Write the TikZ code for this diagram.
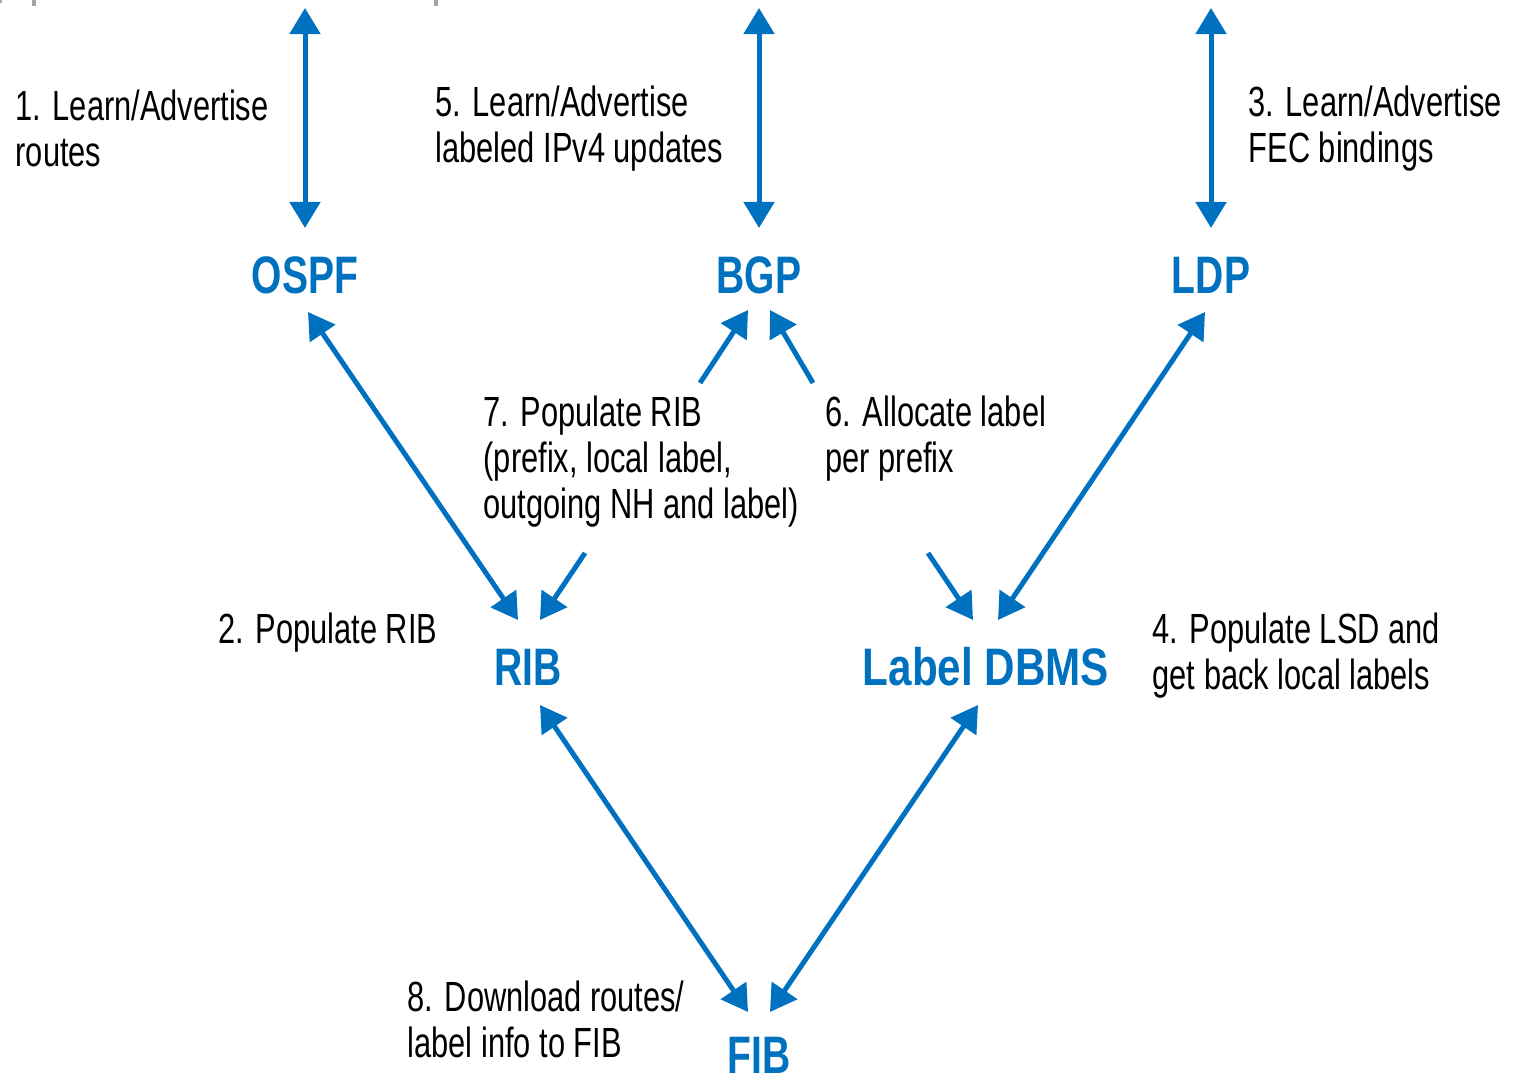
\documentclass[tikz,border=0pt]{standalone}
\usepackage{fontspec}
\setmainfont{Liberation Sans}[FakeStretch=0.73]
\newfontfamily\protofont{Liberation Sans}[FakeStretch=0.74]
\newfontfamily\tablefont{Liberation Sans}[FakeStretch=0.80]
\usetikzlibrary{arrows.meta,calc}
\definecolor{netblue}{RGB}{0,113,190}
\begin{document}
\begin{tikzpicture}[x=0.01cm,y=-0.01cm,
  proto/.style={font=\protofont\fontsize{15pt}{18pt}\selectfont\bfseries, text=netblue,
    inner sep=0pt, text height=10.8pt, text depth=0pt},
  note/.style={font=\fontsize{12pt}{13.1pt}\selectfont, align=left,
    anchor=west, inner sep=0pt},
  tip/.tip={Triangle[length=0.26cm,width=0.30cm]},
  link/.style={draw=netblue, line width=0.05cm, -tip},
  both/.style={draw=netblue, line width=0.05cm, tip-tip},
]
\useasboundingbox (0,0) rectangle (1519,1080);

% small gray ticks along the top edge
\fill[gray!70] (32,0) rectangle (36,6);
\fill[gray!70] (434,0) rectangle (438,6);
\fill[gray!70] (0,0) rectangle (2,3);

% protocol and table nodes
\node[proto] (ospf) at (305,275) {OSPF};
\node[proto] (bgp)  at (759,275) {BGP};
\node[proto] (ldp)  at (1211,275) {LDP};
\node[proto] (rib)  at (528,667) {RIB};
\node[proto, font=\tablefont\fontsize{15pt}{18pt}\selectfont\bfseries] (dbms) at (986,667) {Label DBMS};
\node[proto] (fib)  at (759,1055) {FIB};

% step annotations
\node[note] (t1) at (15,128.5)   {1. Learn/Advertise\\routes};
\node[note] (t5) at (435,128.5)  {5. Learn/Advertise\\labeled IPv4 updates};
\node[note] (t3) at (1248,128.5) {3. Learn/Advertise\\FEC bindings};
\node[note] (t7) at (483,461.5)  {7. Populate RIB\\(prefix, local label,\\outgoing NH and label)};
\node[note] (t6) at (825,439)    {6. Allocate label\\per prefix};
\node[note] (t2) at (218,633)    {2. Populate RIB};
\node[note] (t4) at (1152,655.5) {4. Populate LSD and\\get back local labels};
\node[note] (t8) at (407,1019.5) {8. Download routes/\\label info to FIB};

% peers above the protocols
\coordinate (ospfpeer) at (305,8);
\coordinate (bgppeer)  at (759,8);
\coordinate (ldppeer)  at (1211,8);
\draw[both] (ospfpeer) -- ($(ospf)+(0,-47)$);
\draw[both] (bgppeer)  -- ($(bgp)+(0,-47)$);
\draw[both] (ldppeer)  -- ($(ldp)+(0,-47)$);

% protocol <-> table exchanges
\draw[both] ($(ospf)+(3,37)$) -- ($(rib)+(-10,-47)$);
\draw[both] ($(ldp)+(-6,37)$) -- ($(dbms)+(12,-47)$);
\draw[link] ($(bgp)+(-59,108)$) -- ($(bgp)+(-11,35)$);
\draw[link] ($(bgp)+(54,108)$) -- ($(bgp)+(11,35)$);
\draw[link] ($(rib)+(57,-114)$) -- ($(rib)+(12,-47)$);
\draw[link] ($(dbms)+(-58,-114)$) -- ($(dbms)+(-13,-47)$);

% download to the forwarding table
\draw[both] ($(rib)+(12,38)$) -- ($(fib)+(-11,-43)$);
\draw[both] ($(dbms)+(-8,38)$) -- ($(fib)+(11,-43)$);
\end{tikzpicture}
\end{document}
